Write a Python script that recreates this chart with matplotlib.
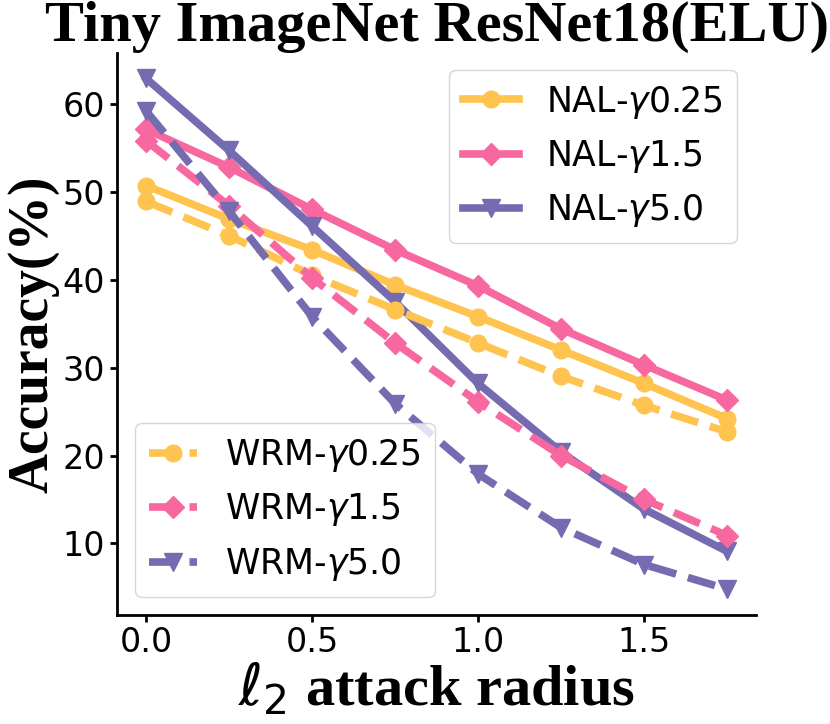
import numpy as np
import matplotlib
matplotlib.use('Agg')
import matplotlib.pyplot as plt

# attack radius (l2) and accuracy (%)
radius = [0.0, 0.25, 0.5, 0.75, 1.0, 1.25, 1.5, 1.75]

nal_g025 = [50.7, 46.9, 43.4, 39.4, 35.8, 32.0, 28.2, 24.2]
nal_g15 = [57.1, 52.8, 48.0, 43.4, 39.3, 34.4, 30.3, 26.3]
nal_g50 = [62.9, 54.7, 46.1, 37.5, 28.2, 20.4, 13.9, 9.1]

wrm_g025 = [48.9, 45.0, 40.5, 36.6, 32.8, 29.0, 25.7, 22.7]
wrm_g15 = [55.8, 48.4, 40.2, 32.8, 26.1, 20.0, 15.0, 10.9]
wrm_g50 = [59.2, 47.8, 35.8, 25.9, 17.9, 11.8, 7.6, 4.8]

gammas = ['0.25', '1.5', '5.0']
colors = ['#fec44f', '#f768a1', '#756bb1']
markers = ['o', 'D', 'v']
msize = {'o': 12, 'D': 11, 'v': 13}

fig = plt.figure(figsize=(8.3, 7.24), dpi=100)
ax = fig.add_axes([0.141, 0.151, 0.770, 0.776])

nal_lines = []
for vals, g, c, m in zip([nal_g025, nal_g15, nal_g50], gammas, colors, markers):
    ln, = ax.plot(radius, vals, '-', color=c, marker=m, lw=5.5,
                  ms=msize[m], label=r'NAL-$\gamma$' + g)
    nal_lines.append(ln)

wrm_lines = []
for vals, g, c, m in zip([wrm_g025, wrm_g15, wrm_g50], gammas, colors, markers):
    ln, = ax.plot(radius, vals, '--', color=c, marker=m, lw=5.5,
                  ms=msize[m], label=r'WRM-$\gamma$' + g)
    wrm_lines.append(ln)

leg1 = ax.legend(handles=nal_lines, loc='upper right', fontsize=25,
                 handlelength=1.6, borderaxespad=0,
                 bbox_to_anchor=(0.970, 0.970))
ax.add_artist(leg1)
ax.legend(handles=wrm_lines, loc='lower left', fontsize=25,
          handlelength=1.4, borderaxespad=0,
          bbox_to_anchor=(0.028, 0.032))

ax.spines['top'].set_visible(False)
ax.spines['right'].set_visible(False)
for s in ('left', 'bottom'):
    ax.spines[s].set_linewidth(2)
ax.tick_params(labelsize=24, width=2, length=5)
ax.set_xticks([0.0, 0.5, 1.0, 1.5])
ax.set_yticks([10, 20, 30, 40, 50, 60])

ax.set_title('Tiny ImageNet ResNet18(ELU)', fontsize=42, fontweight='bold',
             family='Liberation Serif', pad=8)
ax.set_xlabel(r'$\ell_2$ attack radius', fontsize=42, fontweight='bold',
              family='Liberation Serif', labelpad=0)
ax.set_ylabel('Accuracy(%)', fontsize=40, fontweight='bold',
              family='Liberation Serif', labelpad=2)

fig.savefig('out.png', dpi=100, facecolor='white')
